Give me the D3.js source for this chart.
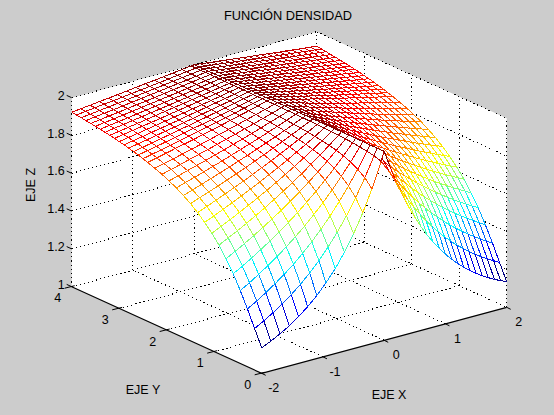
<!DOCTYPE html>
<html>
<head>
<meta charset="utf-8">
<script src="https://cdn.jsdelivr.net/npm/d3@7"></script>
<style>
html,body{margin:0;padding:0;background:#cccccc;overflow:hidden}
text{font-family:"Liberation Sans",Arial,sans-serif;font-size:12.5px;fill:#000}
</style>
</head>
<body>
<script>
const chartTitle = "FUNCIÓN DENSIDAD";
const xLabel = "EJE X", yLabel = "EJE Y", zLabel = "EJE Z";
const xTicks = [-2,-1,0,1,2];
const yTicks = [0,1,2,3,4];
const zTicks = [1,1.2,1.4,1.6,1.8,2];

// mesh lines: x on the left half, x on the right half, y
const xLeft = [-2,-1.85,-1.7,-1.55,-1.4,-1.25,-1.1,-0.95,-0.8,-0.65,-0.5,-0.35,-0.2,-0.05];
const xRight = [0,0.1,0.2,0.3,0.4,0.5,0.6,0.7,0.8,0.9,1,1.1,1.2,1.3,1.4,1.5,1.6,1.7,1.8,1.9,2];
const yLines = [0,0.15,0.3,0.45,0.6,0.75,0.9,1.05,1.2,1.35,1.5,1.65,1.8,1.95,2.1,2.25,2.4,2.5,2.6,2.7,2.8,2.9,3,3.1,3.2,3.3,3.4,3.5,3.6,3.7,3.8,3.9,4];

// height of the surface, one row per y line, left part of the x range
const zLeft = [
[1.135,1.157,1.183,1.212,1.247,1.287,1.333,1.387,1.449,1.522,1.607,1.705,1.819,1.951],
[1.220,1.247,1.277,1.310,1.347,1.389,1.435,1.487,1.546,1.612,1.685,1.768,1.860,1.963],
[1.306,1.335,1.366,1.400,1.437,1.477,1.522,1.570,1.623,1.681,1.744,1.813,1.888,1.971],
[1.386,1.415,1.446,1.479,1.514,1.552,1.593,1.636,1.684,1.734,1.788,1.847,1.909,1.976],
[1.458,1.485,1.515,1.546,1.579,1.614,1.651,1.690,1.732,1.776,1.823,1.872,1.925,1.981],
[1.520,1.547,1.574,1.603,1.633,1.665,1.698,1.733,1.770,1.809,1.849,1.892,1.937,1.984],
[1.575,1.600,1.625,1.651,1.679,1.707,1.738,1.769,1.801,1.835,1.871,1.908,1.946,1.986],
[1.621,1.644,1.667,1.692,1.717,1.743,1.770,1.798,1.827,1.857,1.888,1.920,1.953,1.988],
[1.661,1.682,1.704,1.726,1.749,1.772,1.796,1.822,1.847,1.874,1.902,1.930,1.959,1.990],
[1.696,1.715,1.735,1.755,1.776,1.797,1.819,1.842,1.865,1.889,1.913,1.939,1.964,1.991],
[1.726,1.744,1.762,1.780,1.799,1.819,1.838,1.859,1.880,1.901,1.923,1.946,1.968,1.992],
[1.752,1.768,1.785,1.802,1.819,1.837,1.855,1.873,1.892,1.912,1.931,1.951,1.972,1.993],
[1.775,1.790,1.805,1.820,1.836,1.852,1.869,1.886,1.903,1.920,1.938,1.956,1.975,1.994],
[1.795,1.808,1.823,1.837,1.851,1.866,1.881,1.897,1.912,1.928,1.944,1.961,1.977,1.994],
[1.812,1.825,1.838,1.852,1.865,1.878,1.892,1.906,1.920,1.935,1.949,1.964,1.979,1.995],
[1.827,1.839,1.851,1.863,1.876,1.888,1.901,1.914,1.927,1.940,1.954,1.967,1.981,1.995],
[1.841,1.852,1.863,1.875,1.886,1.897,1.909,1.921,1.933,1.945,1.958,1.970,1.983,1.996],
[1.849,1.860,1.870,1.881,1.892,1.903,1.914,1.925,1.937,1.948,1.960,1.972,1.984,1.996],
[1.857,1.867,1.877,1.887,1.898,1.908,1.919,1.929,1.940,1.951,1.962,1.973,1.985,1.996],
[1.864,1.873,1.883,1.893,1.903,1.913,1.923,1.933,1.943,1.954,1.964,1.975,1.986,1.996],
[1.871,1.880,1.889,1.898,1.908,1.917,1.927,1.936,1.946,1.956,1.966,1.976,1.986,1.997],
[1.877,1.885,1.894,1.903,1.912,1.921,1.930,1.940,1.949,1.958,1.968,1.977,1.987,1.997],
[1.882,1.891,1.899,1.908,1.916,1.925,1.934,1.942,1.951,1.960,1.969,1.978,1.988,1.997],
[1.888,1.896,1.904,1.912,1.920,1.928,1.937,1.945,1.954,1.962,1.971,1.979,1.988,1.997],
[1.893,1.900,1.908,1.916,1.924,1.932,1.940,1.948,1.956,1.964,1.972,1.980,1.989,1.997],
[1.897,1.905,1.912,1.920,1.927,1.935,1.942,1.950,1.958,1.965,1.973,1.981,1.989,1.997],
[1.902,1.909,1.916,1.923,1.930,1.938,1.945,1.952,1.960,1.967,1.974,1.982,1.990,1.997],
[1.906,1.913,1.919,1.926,1.933,1.940,1.947,1.954,1.961,1.968,1.976,1.983,1.990,1.998],
[1.910,1.916,1.923,1.929,1.936,1.943,1.949,1.956,1.963,1.970,1.977,1.984,1.991,1.998],
[1.913,1.920,1.926,1.932,1.938,1.945,1.951,1.958,1.964,1.971,1.978,1.984,1.991,1.998],
[1.917,1.923,1.929,1.935,1.941,1.947,1.953,1.960,1.966,1.972,1.979,1.985,1.991,1.998],
[1.920,1.926,1.932,1.938,1.943,1.949,1.955,1.961,1.967,1.973,1.979,1.986,1.992,1.998],
[1.923,1.929,1.934,1.940,1.945,1.951,1.957,1.963,1.969,1.974,1.980,1.986,1.992,1.998]
];

// height of the surface, one row per y line, right part of the x range
const zRight = [
[2,1.905,1.819,1.741,1.670,1.607,1.549,1.497,1.449,1.407,1.368,1.333,1.301,1.273,1.247,1.223,1.202,1.183,1.165,1.150,1.135],
[2,1.927,1.860,1.797,1.739,1.685,1.635,1.589,1.546,1.506,1.469,1.435,1.403,1.374,1.347,1.322,1.298,1.277,1.256,1.238,1.220],
[2,1.943,1.888,1.837,1.789,1.744,1.701,1.661,1.623,1.587,1.553,1.522,1.492,1.463,1.437,1.412,1.388,1.366,1.345,1.325,1.306],
[2,1.954,1.909,1.867,1.827,1.788,1.752,1.717,1.684,1.652,1.621,1.593,1.565,1.539,1.514,1.490,1.467,1.446,1.425,1.405,1.386],
[2,1.962,1.925,1.889,1.855,1.823,1.791,1.761,1.732,1.704,1.677,1.651,1.626,1.602,1.579,1.557,1.535,1.515,1.495,1.476,1.458],
[2,1.968,1.937,1.907,1.878,1.849,1.822,1.796,1.770,1.745,1.721,1.698,1.676,1.654,1.633,1.613,1.593,1.574,1.556,1.538,1.520],
[2,1.973,1.946,1.920,1.895,1.871,1.847,1.824,1.801,1.780,1.758,1.738,1.718,1.698,1.679,1.660,1.642,1.625,1.608,1.591,1.575],
[2,1.976,1.953,1.931,1.909,1.888,1.867,1.847,1.827,1.807,1.788,1.770,1.752,1.734,1.717,1.700,1.683,1.667,1.652,1.636,1.621],
[2,1.980,1.959,1.940,1.921,1.902,1.883,1.865,1.847,1.830,1.813,1.796,1.780,1.764,1.749,1.733,1.718,1.704,1.689,1.675,1.661],
[2,1.982,1.964,1.947,1.930,1.913,1.897,1.881,1.865,1.850,1.834,1.819,1.805,1.790,1.776,1.762,1.748,1.735,1.722,1.709,1.696],
[2,1.984,1.968,1.953,1.938,1.923,1.908,1.894,1.880,1.866,1.852,1.838,1.825,1.812,1.799,1.787,1.774,1.762,1.750,1.738,1.726],
[2,1.986,1.972,1.958,1.945,1.931,1.918,1.905,1.892,1.880,1.867,1.855,1.843,1.831,1.819,1.808,1.796,1.785,1.774,1.763,1.752],
[2,1.987,1.975,1.962,1.950,1.938,1.926,1.914,1.903,1.891,1.880,1.869,1.858,1.847,1.836,1.826,1.815,1.805,1.795,1.785,1.775],
[2,1.989,1.977,1.966,1.955,1.944,1.933,1.923,1.912,1.902,1.891,1.881,1.871,1.861,1.851,1.842,1.832,1.823,1.813,1.804,1.795],
[2,1.990,1.979,1.969,1.959,1.949,1.939,1.930,1.920,1.910,1.901,1.892,1.883,1.874,1.865,1.856,1.847,1.838,1.829,1.821,1.812],
[2,1.991,1.981,1.972,1.963,1.954,1.945,1.936,1.927,1.918,1.910,1.901,1.893,1.884,1.876,1.868,1.859,1.851,1.843,1.835,1.827],
[2,1.991,1.983,1.974,1.966,1.958,1.949,1.941,1.933,1.925,1.917,1.909,1.901,1.894,1.886,1.878,1.871,1.863,1.856,1.848,1.841],
[2,1.992,1.984,1.976,1.968,1.960,1.952,1.945,1.937,1.929,1.922,1.914,1.907,1.899,1.892,1.885,1.878,1.870,1.863,1.856,1.849],
[2,1.992,1.985,1.977,1.970,1.962,1.955,1.947,1.940,1.933,1.926,1.919,1.912,1.905,1.898,1.891,1.884,1.877,1.870,1.864,1.857],
[2,1.993,1.986,1.978,1.971,1.964,1.957,1.950,1.943,1.936,1.930,1.923,1.916,1.909,1.903,1.896,1.890,1.883,1.877,1.870,1.864],
[2,1.993,1.986,1.979,1.973,1.966,1.959,1.953,1.946,1.940,1.933,1.927,1.920,1.914,1.908,1.901,1.895,1.889,1.883,1.877,1.871],
[2,1.993,1.987,1.981,1.974,1.968,1.961,1.955,1.949,1.943,1.936,1.930,1.924,1.918,1.912,1.906,1.900,1.894,1.888,1.883,1.877],
[2,1.994,1.988,1.981,1.975,1.969,1.963,1.957,1.951,1.945,1.939,1.934,1.928,1.922,1.916,1.911,1.905,1.899,1.894,1.888,1.882],
[2,1.994,1.988,1.982,1.976,1.971,1.965,1.959,1.954,1.948,1.942,1.937,1.931,1.926,1.920,1.915,1.909,1.904,1.899,1.893,1.888],
[2,1.994,1.989,1.983,1.978,1.972,1.967,1.961,1.956,1.950,1.945,1.940,1.934,1.929,1.924,1.919,1.913,1.908,1.903,1.898,1.893],
[2,1.995,1.989,1.984,1.979,1.973,1.968,1.963,1.958,1.952,1.947,1.942,1.937,1.932,1.927,1.922,1.917,1.912,1.907,1.902,1.897],
[2,1.995,1.990,1.985,1.980,1.974,1.969,1.964,1.959,1.954,1.950,1.945,1.940,1.935,1.930,1.925,1.920,1.916,1.911,1.906,1.902],
[2,1.995,1.990,1.985,1.980,1.976,1.971,1.966,1.961,1.956,1.952,1.947,1.942,1.938,1.933,1.928,1.924,1.919,1.915,1.910,1.906],
[2,1.995,1.991,1.986,1.981,1.977,1.972,1.967,1.963,1.958,1.954,1.949,1.945,1.940,1.936,1.932,1.927,1.923,1.918,1.914,1.910],
[2,1.995,1.991,1.987,1.982,1.978,1.973,1.969,1.964,1.960,1.956,1.951,1.947,1.943,1.938,1.934,1.930,1.926,1.922,1.917,1.913],
[2,1.996,1.991,1.987,1.983,1.979,1.974,1.970,1.966,1.962,1.958,1.953,1.949,1.945,1.941,1.937,1.933,1.929,1.925,1.921,1.917],
[2,1.996,1.992,1.988,1.984,1.979,1.975,1.971,1.967,1.963,1.959,1.955,1.951,1.947,1.943,1.939,1.936,1.932,1.928,1.924,1.920],
[2,1.996,1.992,1.988,1.984,1.980,1.976,1.972,1.968,1.964,1.961,1.957,1.953,1.949,1.945,1.942,1.938,1.934,1.931,1.927,1.923]
];

const W = 554, H = 415;
const originX = 261.7, originY = 373.3;
// oblique projection of the 3D box, as one linear scale per axis and screen direction
const xToH = d3.scaleLinear([-2,2],[0,245]);
const xToV = d3.scaleLinear([-2,2],[0,-66]);
const yToH = d3.scaleLinear([0,4],[0,-190]);
const yToV = d3.scaleLinear([0,4],[0,-86.6]);
const zToV = d3.scaleLinear([1,2],[0,-189]);
const px = (x,y) => originX + xToH(x) + yToH(y);
const py = (x,y,z) => originY + xToV(x) + yToV(y) + zToV(z);
const P = (x,y,z) => [px(x,y), py(x,y,z)];

const xs = xLeft.concat(xRight);
const zs = zLeft.map((row,i) => row.concat(zRight[i]));
const allZ = zs.flat();
const zExt = d3.extent(allZ);
const jetT = d3.scaleLinear().domain(zExt).range([0,1]);
const jet = d3.scaleLinear()
  .domain([0,1/8,3/8,5/8,7/8,1])
  .range(["#000080","#0000ff","#00ffff","#ffff00","#ff0000","#800000"])
  .interpolate(d3.interpolateRgb);
const colour = z => jet(jetT(z));

const svg = d3.select("body").append("svg").attr("width",W).attr("height",H)
  .style("display","block").style("background","#cccccc");

// white box walls
svg.append("polygon")
  .attr("points",[P(-2,4,1),P(-2,0,1),P(2,0,1),P(2,0,2),P(2,4,2),P(-2,4,2)].map(p=>p.join(",")).join(" "))
  .attr("fill","#fff");

// dotted grid and box edges
const gridSegs = [];
xTicks.slice(1,-1).forEach(x => {
  gridSegs.push([P(x,0,1),P(x,4,1)]);
  gridSegs.push([P(x,4,1),P(x,4,2)]);
});
yTicks.slice(1,-1).forEach(y => {
  gridSegs.push([P(-2,y,1),P(2,y,1)]);
  gridSegs.push([P(2,y,1),P(2,y,2)]);
});
zTicks.slice(1,-1).forEach(z => {
  gridSegs.push([P(-2,4,z),P(2,4,z)]);
  gridSegs.push([P(2,4,z),P(2,0,z)]);
});
gridSegs.push([P(-2,4,1),P(2,4,1)],[P(2,4,1),P(2,0,1)],[P(2,4,1),P(2,4,2)],
  [P(-2,4,1),P(-2,4,2)],[P(2,0,1),P(2,0,2)],[P(-2,4,2),P(2,4,2)],[P(2,4,2),P(2,0,2)]);
const line = d3.line();
svg.append("g").selectAll("path").data(gridSegs).join("path")
  .attr("d",d=>line(d)).attr("fill","none").attr("stroke","#000")
  .attr("stroke-width",1).attr("stroke-dasharray","1.2,3").attr("shape-rendering","crispEdges");

// solid axes
svg.append("path").attr("d",line([P(-2,4,1),P(-2,0,1),P(2,0,1)]))
  .attr("fill","none").attr("stroke","#000").attr("stroke-width",1.2);

// tick marks
const tickSegs = [];
xTicks.forEach(x => { const p=P(x,0,1); tickSegs.push([p,[p[0]+4,p[1]+2]]); });
yTicks.forEach(y => { const p=P(-2,y,1); tickSegs.push([[p[0]-7,p[1]+1.5],[p[0]+3,p[1]-1]]); });
zTicks.forEach(z => { const p=P(-2,4,z); tickSegs.push([[p[0]-5,p[1]-2.3],p]); });
svg.append("g").selectAll("path").data(tickSegs).join("path")
  .attr("d",d=>line(d)).attr("fill","none").attr("stroke","#000").attr("stroke-width",1);

// mesh, painted from the far corner to the near one
const mesh = svg.append("g");
const cells = [];
for (let j = yLines.length-2; j >= 0; j--) {
  for (let i = xs.length-2; i >= 0; i--) cells.push([i,j]);
}
const V = (i,j) => P(xs[i],yLines[j],zs[j][i]);
cells.forEach(([i,j]) => {
  const a=V(i,j), b=V(i+1,j), c=V(i+1,j+1), d=V(i,j+1);
  mesh.append("path").attr("d",line([a,b,c,d])+"Z").attr("fill","#fff").attr("stroke","none");
  const segs = [[a,b,zs[j][i]],[b,c,zs[j][i+1]],[d,c,zs[j+1][i]],[a,d,zs[j][i]]];
  segs.forEach(s => {
    mesh.append("path").attr("d",line([s[0],s[1]])).attr("fill","none")
      .attr("stroke",colour(s[2])).attr("stroke-width",1).attr("shape-rendering","crispEdges");
  });
});

// tick labels
svg.append("g").selectAll("text").data(zTicks).join("text")
  .attr("text-anchor","end").attr("x",d=>P(-2,4,d)[0]-7).attr("y",d=>P(-2,4,d)[1]+2)
  .text(d=>String(d));
svg.append("g").selectAll("text").data(yTicks).join("text")
  .attr("text-anchor","middle").attr("x",d=>P(-2,d,1)[0]-14).attr("y",d=>P(-2,d,1)[1]+15.5)
  .text(d=>String(d));
svg.append("g").selectAll("text").data(xTicks).join("text")
  .attr("text-anchor","middle").attr("x",d=>P(d,0,1)[0]+12).attr("y",d=>P(d,0,1)[1]+19)
  .text(d=>String(d));

// titles
svg.append("text").attr("x",288).attr("y",20).attr("text-anchor","middle").style("font-size","12.8px").text(chartTitle);
svg.append("text").attr("x",143).attr("y",394).attr("text-anchor","middle").text(yLabel);
svg.append("text").attr("x",389).attr("y",399).attr("text-anchor","middle").text(xLabel);
svg.append("text").attr("transform","translate(35,185) rotate(-90)").attr("text-anchor","middle").text(zLabel);
</script>
</body>
</html>
